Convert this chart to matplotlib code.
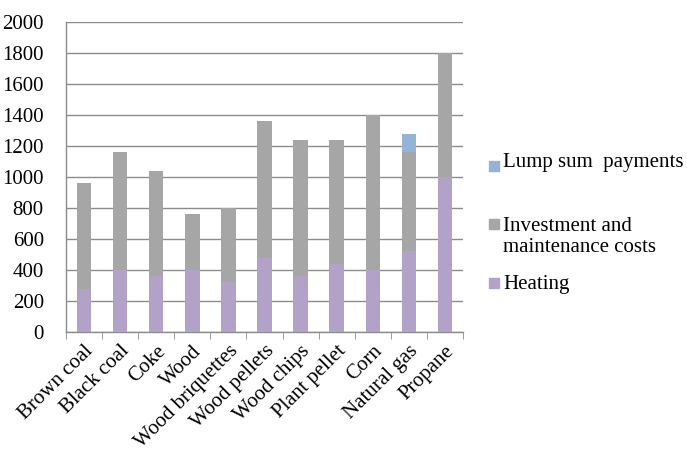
import matplotlib
matplotlib.use("Agg")
import matplotlib.pyplot as plt
import numpy as np
from matplotlib.patches import Rectangle

categories = ["Brown coal", "Black coal", "Coke", "Wood", "Wood briquettes", "Wood pellets",
              "Wood chips", "Plant pellet", "Corn", "Natural gas", "Propane"]
heating = [280, 400, 360, 400, 320, 480, 360, 440, 400, 520, 1000]
investment = [680, 760, 680, 360, 480, 880, 880, 800, 1000, 640, 800]
lump_sum = [0, 0, 0, 0, 0, 0, 0, 0, 0, 120, 0]
yticks = [0, 200, 400, 600, 800, 1000, 1200, 1400, 1600, 1800, 2000]
legend_labels = ["Lump sum  payments", "Investment and\nmaintenance costs", "Heating"]

plt.rcParams['font.family'] = ['Liberation Serif', 'DejaVu Serif']

c_heat = "#B3A2C7"
c_inv = "#A6A6A6"
c_lump = "#95B3D7"

W, H = 687, 453
fig = plt.figure(figsize=(W/100, H/100), dpi=100)
ax = fig.add_axes([66/W, 1-332/H, (463-66)/W, (332-22)/H])

x = np.arange(len(categories))
w = 0.4
ax.bar(x, heating, w, color=c_heat, zorder=3)
ax.bar(x, investment, w, bottom=heating, color=c_inv, zorder=3)
bottom2 = np.array(heating) + np.array(investment)
ax.bar(x, lump_sum, w, bottom=bottom2, color=c_lump, zorder=3)

ax.set_xlim(-0.5, len(categories) - 0.5)
ax.set_ylim(0, 2000)
ax.set_yticks(yticks)
ax.set_yticklabels([str(v) for v in yticks], fontsize=15)
ax.yaxis.grid(True, color="#8C8C8C", linewidth=1, zorder=0)
ax.tick_params(axis='y', length=0, pad=16)

ax.set_xticks(x)
ax.set_xticklabels(categories, rotation=45, ha='right', rotation_mode='anchor', fontsize=15)
ax.tick_params(axis='x', length=0, pad=7)
ax.set_xticks(np.arange(-0.5, len(categories)), minor=True)
ax.tick_params(axis='x', which='minor', length=5, color="#8C8C8C", direction='out')

for s in ['top', 'right']:
    ax.spines[s].set_visible(False)
for s in ['left', 'bottom']:
    ax.spines[s].set_color("#8C8C8C")
    ax.spines[s].set_linewidth(1)

# legend drawn as squares + text (Excel-like uneven spacing)
colors = [c_lump, c_inv, c_heat]
sq_y = [166, 224, 283]
txt_y = [163, 237, 284]
for col, sy, ty, lab in zip(colors, sq_y, txt_y, legend_labels):
    fig.patches.append(Rectangle((489/W, 1-(sy+5)/H), 10/W, 10/H, color=col,
                                 transform=fig.transFigure, figure=fig))
    fig.text(503/W, 1-ty/H, lab, fontsize=15, va='center', ha='left', linespacing=1.2)

fig.savefig("out.png", dpi=100)
